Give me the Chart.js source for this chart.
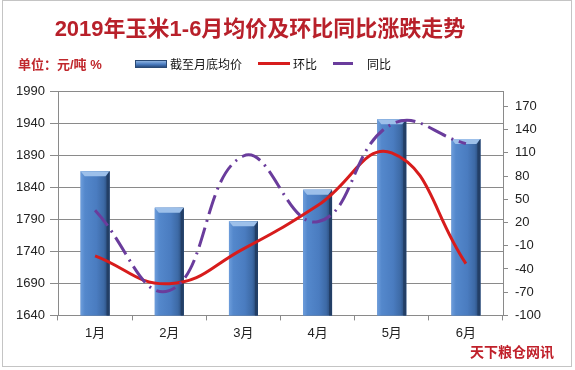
<!DOCTYPE html>
<html>
<head>
<meta charset="utf-8">
<script src="https://cdn.jsdelivr.net/npm/chart.js@4/dist/chart.umd.min.js"></script>
<style>
  body { margin: 0; background: #fff; }
  #wrap { position: relative; width: 575px; height: 370px; font-family: "Liberation Sans", "Noto Sans CJK SC", sans-serif; }
  #frame { position: absolute; left: 2px; top: 0; width: 570px; height: 367px; border: 1px solid #c4c4c4; box-sizing: border-box; }
  canvas { position: absolute; left: 0; top: 0; }
  .txt { position: absolute; white-space: nowrap; }
  #title { left: 0; width: 520px; top: 10px; text-align: center; font-size: 22px; font-weight: bold; color: #b8202a; }
  #unit { left: 18px; top: 54px; font-size: 13px; font-weight: bold; color: #c0282d; }
  .lg { font-size: 12px; color: #111; top: 55px; }
  .sw { position: absolute; }
  #src { left: 470px; top: 341px; font-size: 14px; font-weight: bold; color: #c0202a; }
</style>
</head>
<body>
<div id="wrap">
  <div id="frame"></div>
  <canvas id="chart" width="575" height="370"></canvas>
  <div class="txt" id="title">2019年玉米1-6月均价及环比同比涨跌走势</div>
  <div class="txt" id="unit">单位：元/吨 %</div>
  <div class="sw" style="left:135px;top:60px;width:32px;height:8px;background:linear-gradient(#8fb3e0,#4a7cc0 55%,#2a4d80);border:1px solid #2a4a75;box-sizing:border-box;"></div>
  <div class="txt lg" style="left:170px;">截至月底均价</div>
  <div class="sw" style="left:258px;top:62px;width:32px;height:3px;background:#d71c1c;"></div>
  <div class="txt lg" style="left:293px;">环比</div>
  <div class="sw" style="left:333px;top:62px;width:20px;height:3px;background:#6a3c9c;"></div>
  <div class="txt lg" style="left:367px;">同比</div>
  <div class="txt" id="src">天下粮仓网讯</div>
</div>
<script>
// 月份
const months = ['1月', '2月', '3月', '4月', '5月', '6月'];
// 截至月底均价（元/吨）
const avgPrice = [1865, 1808, 1787, 1836, 1946, 1915];
// 环比（%）
const momChange = [-23, -59, -14, 42, 110, -33];
// 同比（%）
const yoyChange = [36, -68, 106, 21, 147, 122];
// 右轴刻度
const rightTicks = [-100, -70, -40, -10, 20, 50, 80, 110, 140, 170];

const gridColor = '#8a8a8a';
const tickFont = { family: '"Liberation Sans", "Noto Sans CJK SC", sans-serif', size: 13 };

// 柱子的立体效果
const bevelBars = {
  id: 'bevelBars',
  afterDatasetDraw(chart, args) {
    if (args.index !== 0) return;
    const ctx = chart.ctx;
    const bottom = chart.chartArea.bottom;
    chart.getDatasetMeta(0).data.forEach(bar => {
      const p = bar.getProps(['x', 'y', 'base', 'width'], true);
      const base = Math.min(p.base, bottom);
      const l = p.x - p.width / 2, r = p.x + p.width / 2, h = base - p.y;
      const g = ctx.createLinearGradient(l, 0, r, 0);
      g.addColorStop(0, '#6d9ddb');
      g.addColorStop(0.15, '#5488cc');
      g.addColorStop(0.55, '#4a7cc0');
      g.addColorStop(0.8, '#3d6aa6');
      g.addColorStop(1, '#22406a');
      ctx.save();
      ctx.fillStyle = g;
      ctx.fillRect(l, p.y, p.width, h);
      // 顶部高光
      ctx.fillStyle = '#9dc0ea';
      ctx.beginPath();
      ctx.moveTo(l, p.y);
      ctx.lineTo(r, p.y);
      ctx.lineTo(r - 4, p.y + 5);
      ctx.lineTo(l + 4, p.y + 5);
      ctx.closePath();
      ctx.fill();
      // 右侧暗边
      ctx.fillStyle = '#233f66';
      ctx.beginPath();
      ctx.moveTo(r, p.y);
      ctx.lineTo(r, base);
      ctx.lineTo(r - 3, base);
      ctx.lineTo(r - 3, p.y + 5);
      ctx.closePath();
      ctx.fill();
      ctx.restore();
    });
  }
};

new Chart(document.getElementById('chart'), {
  data: {
    labels: months,
    datasets: [
      {
        type: 'bar',
        label: '截至月底均价',
        data: avgPrice,
        yAxisID: 'y',
        backgroundColor: '#4a7cc0',
        barPercentage: 0.39,
        categoryPercentage: 1,
        order: 2
      },
      {
        type: 'line',
        label: '环比',
        data: momChange,
        yAxisID: 'y1',
        borderColor: '#d71c1c',
        borderWidth: 3,
        pointRadius: 0,
        tension: 0.45,
        order: 1
      },
      {
        type: 'line',
        label: '同比',
        data: yoyChange,
        yAxisID: 'y1',
        borderColor: '#6a3c9c',
        borderWidth: 3,
        borderDash: [20, 6, 2, 6],
        pointRadius: 0,
        tension: 0.45,
        order: 0
      }
    ]
  },
  options: {
    responsive: false,
    animation: false,
    devicePixelRatio: 1,
    layout: { padding: { top: 91, left: 0, right: 0, bottom: 24 } },
    plugins: { legend: { display: false }, title: { display: false }, tooltip: { enabled: false } },
    scales: {
      x: {
        offset: true,
        grid: { offset: true, drawOnChartArea: false, tickLength: 5, color: gridColor },
        border: { color: gridColor },
        ticks: { font: tickFont, color: '#222', padding: 5, autoSkip: false, maxRotation: 0 }
      },
      y: {
        position: 'left',
        min: 1640,
        max: 1990,
        ticks: { stepSize: 50, font: tickFont, color: '#222', padding: 5, callback: v => String(v) },
        grid: { color: gridColor, tickLength: 8 },
        border: { color: gridColor },
        afterFit: s => { s.width = 58; }
      },
      y1: {
        position: 'right',
        min: -100,
        max: 190,
        ticks: { font: tickFont, color: '#222', padding: 7, callback: v => String(v) },
        afterBuildTicks: s => { s.ticks = rightTicks.map(v => ({ value: v })); },
        grid: { drawOnChartArea: false, tickLength: 5, color: gridColor },
        border: { color: gridColor },
        afterFit: s => { s.width = 72; }
      }
    }
  },
  plugins: [bevelBars]
});
</script>
</body>
</html>
